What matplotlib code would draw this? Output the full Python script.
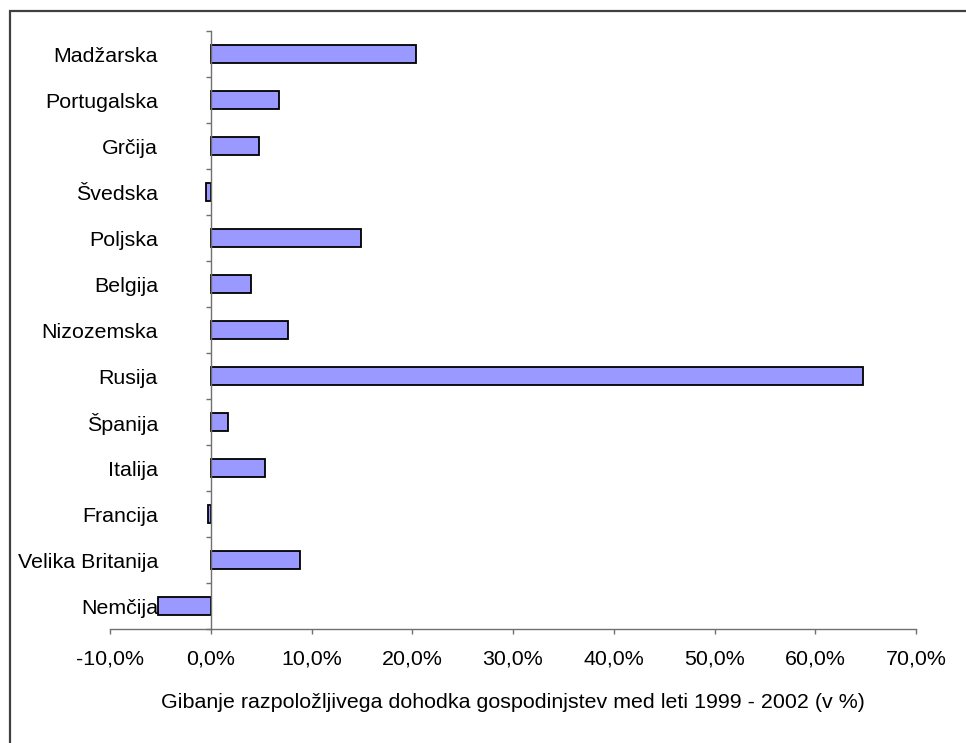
import matplotlib
matplotlib.use("Agg")
import matplotlib.pyplot as plt
from matplotlib.patches import Rectangle
from matplotlib.ticker import FuncFormatter, FixedLocator

plt.rcParams['font.family'] = ['Liberation Sans', 'DejaVu Sans']

countries = ["Madžarska", "Portugalska", "Grčija", "Švedska", "Poljska", "Belgija",
             "Nizozemska", "Rusija", "Španija", "Italija", "Francija",
             "Velika Britanija", "Nemčija"]
values = [20.4, 6.8, 4.8, -0.5, 14.9, 4.0, 7.7, 64.7, 1.75, 5.4, -0.3, 8.9, -5.2]
x_ticks = [-10, 0, 10, 20, 30, 40, 50, 60, 70]
x_label = "Gibanje razpoložljivega dohodka gospodinjstev med leti 1999 - 2002 (v %)"

W, H = 966, 743
fig = plt.figure(figsize=(W / 100, H / 100), dpi=100)
fig.patch.set_facecolor('white')

# outer chart frame
fig.patches.append(Rectangle((10 / W, -0.05), 1.2, 1 - 11 / H + 0.05,
                             transform=fig.transFigure, fill=False,
                             edgecolor='#404040', linewidth=1.6))

left, right, top, bottom = 110, 916, 31, 629
ax = fig.add_axes([left / W, 1 - bottom / H, (right - left) / W, (bottom - top) / H])

pos = list(range(len(countries)))
ax.barh(pos, values, height=0.4, color='#9999FF', edgecolor='black', linewidth=1.3, zorder=3)

ax.set_xlim(-10, 70)
ax.set_ylim(len(countries) - 0.5, -0.5)

for s in ['top', 'right']:
    ax.spines[s].set_visible(False)
ax.spines['left'].set_position(('data', 0))
for s in ['left', 'bottom']:
    ax.spines[s].set_color('#707070')
    ax.spines[s].set_linewidth(1.0)
    ax.spines[s].set_zorder(4)

fs = 15.4
ax.xaxis.set_major_locator(FixedLocator(x_ticks))
ax.xaxis.set_major_formatter(FuncFormatter(lambda v, p: f"{v:.1f}%".replace('.', ',')))
ax.tick_params(axis='x', direction='out', length=5 * 0.72, width=1.0, color='#707070',
               labelsize=fs, pad=11.5, labelcolor='black')

ax.set_yticks(pos)
ax.set_yticklabels(countries)
ax.set_yticks([p - 0.5 for p in pos] + [len(countries) - 0.5], minor=True)
ax.tick_params(axis='y', which='major', length=0, pad=38, labelsize=fs)
ax.tick_params(axis='y', which='minor', direction='out', length=5 * 0.72, width=1.0, color='#707070')

ax.set_xlabel(x_label, fontsize=fs, labelpad=17)
ax.set_facecolor('none')

fig.savefig("out.png", dpi=100, facecolor='white')
